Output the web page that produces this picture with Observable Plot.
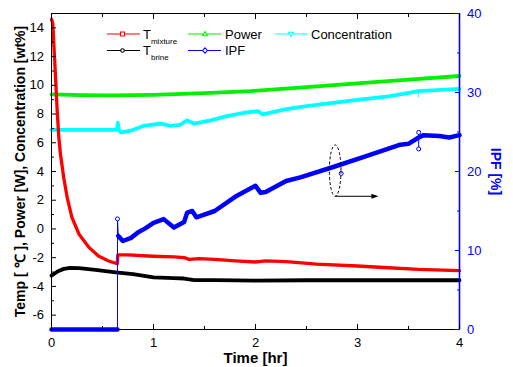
<!DOCTYPE html>
<html><head><meta charset="utf-8">
<script src="https://cdn.jsdelivr.net/npm/d3@7"></script>
<script src="https://cdn.jsdelivr.net/npm/@observablehq/plot@0.6"></script>
<style>
body{margin:0;background:#fff;}
#wrap{position:relative;width:513px;height:367px;}
#legend{position:absolute;left:0;top:0;pointer-events:none;}
</style></head><body><div id="wrap"></div>
<script>
// ---- data (time in hr) ----
const mixT = [0,0.013,0.023,0.04,0.056,0.072,0.088,0.12,0.154,0.2,0.27,0.37,0.46,0.56,0.645,0.65,0.75,1.0,1.2,1.3,1.35,1.45,1.6,1.8,2.0,2.1,2.3,2.6,3.0,3.3,3.6,4.0];
const mixV = [14.6,14.3,12.85,10.5,8.2,6.35,5.2,3.57,2.18,0.8,-0.37,-1.3,-1.88,-2.23,-2.42,-1.8,-1.8,-1.9,-1.95,-2.0,-2.12,-2.07,-2.12,-2.22,-2.3,-2.22,-2.28,-2.45,-2.58,-2.7,-2.82,-2.9];
const brineT = [0,0.03,0.07,0.12,0.17,0.27,0.43,0.63,0.8,1.0,1.2,1.3,1.4,1.6,2.0,2.5,3.0,3.5,4.0];
const brineV = [-3.25,-3.1,-2.92,-2.78,-2.72,-2.73,-2.85,-3.02,-3.15,-3.37,-3.42,-3.45,-3.56,-3.56,-3.6,-3.57,-3.57,-3.57,-3.57];
const powT = [0,0.3,0.6,1.0,1.5,1.95,2.5,3.0,3.5,4.0];
const powV = [9.37,9.32,9.3,9.34,9.45,9.6,9.88,10.13,10.39,10.65];
const concT = [0,0.64,0.65,0.66,0.68,0.77,0.9,1.07,1.17,1.26,1.33,1.4,1.56,1.72,1.89,2.02,2.07,2.15,2.29,2.5,3.0,3.32,3.6,4.0];
const concV = [6.9,6.9,7.4,6.9,6.72,6.82,7.17,7.33,7.17,7.24,7.56,7.33,7.56,7.86,8.09,8.2,7.98,8.1,8.33,8.55,8.98,9.25,9.6,9.75];
const ipfT = [0,0.647,0.647,0.655,0.7,0.78,0.85,0.92,1.0,1.1,1.2,1.3,1.33,1.38,1.42,1.6,1.8,2.0,2.05,2.1,2.3,2.44,2.77,3.1,3.42,3.5,3.6,3.65,3.8,3.9,4.0];
const ipfV = [0,0,14.0,11.85,11.2,11.6,12.3,12.8,13.5,13.97,12.9,13.6,14.8,15.0,14.2,15.0,16.8,18.2,17.3,17.4,18.8,19.25,20.6,22.0,23.4,23.5,24.3,24.6,24.5,24.3,24.6];
// error-bar style spikes
const ipfBarT = [3.6], ipfBarLo = [22.85], ipfBarHi = [24.95];
const concBarT = [3.6], concBarLo = [9.12], concBarHi = [9.7];
const ipfOddT = [2.84], ipfOddV = [19.75];
// annotation (ellipse around IPF curve + arrow to the right axis)
const annT = 2.786, annIpfTop = 23.3, annIpfBottom = 16.8, annHalfW = 0.057, annArrowEndT = 3.21;
// axes
const xMax = 4, yMin = -7, yMax = 15, ipfMax = 40;
const xMajor = [0,1,2,3,4], xMinor = [0.5,1.5,2.5,3.5];
const yMajor = [-6,-4,-2,0,2,4,6,8,10,12,14], yMinor = [-5,-3,-1,1,3,5,7,9,11,13];
const ipfMajor = [0,10,20,30,40], ipfMinor = [5,15,25,35];
const xTitle = "Time [hr]";
const yTitle = "Temp [ ℃ ], Power [W], Concentration [wt%]";
const y2Title = "IPF [%]";

const toLeft = v => yMin + v * (yMax - yMin) / ipfMax;
const zip = (T, V) => T.map((t, i) => ({t, v: V[i]}));
const mix = zip(mixT, mixV), brine = zip(brineT, brineV), pow = zip(powT, powV), conc = zip(concT, concV);
const ipf = ipfT.map((t, i) => ({t, v: toLeft(ipfV[i]), raw: ipfV[i], seg: i < 2 ? "zero" : (i === 2 ? "spike" : "data")}));
const ipfThick = ipf.filter(d => d.seg !== "spike");
const ipfSpike = ipf.filter(d => d.seg === "spike");
const ipfBars = ipfBarT.map((t, i) => ({t, lo: toLeft(ipfBarLo[i]), hi: toLeft(ipfBarHi[i])}));
const concBars = concBarT.map((t, i) => ({t, lo: concBarLo[i], hi: concBarHi[i]}));
const ipfOdd = ipfOddT.map((t, i) => ({t, v: toLeft(ipfOddV[i])}));

const BLUE = "#0000ff", RED = "#ff0000", GREEN = "#00f000", CYAN = "#00ffff";
const font = '"Liberation Sans", Arial, sans-serif';

const plot = Plot.plot({
  width: 513, height: 367,
  marginLeft: 51, marginRight: 54, marginTop: 13, marginBottom: 38,
  style: {fontFamily: font, fontSize: "13px", background: "white", color: "black", overflow: "visible"},
  x: {domain: [0, xMax], axis: null},
  y: {domain: [yMin, yMax], axis: null},
  marks: [
    Plot.line(brine, {x: "t", y: "v", stroke: "black", strokeWidth: 3.8}),
    Plot.line(pow, {x: "t", y: "v", stroke: GREEN, strokeWidth: 3.8}),
    Plot.line(conc, {x: "t", y: "v", stroke: CYAN, strokeWidth: 3.8}),
    Plot.ruleX(concBars, {x: "t", y1: "lo", y2: "hi", stroke: CYAN, strokeWidth: 1}),
    Plot.line(mix, {x: "t", y: "v", stroke: RED, strokeWidth: 3.3}),
    Plot.line(ipf, {x: "t", y: "v", stroke: BLUE, strokeWidth: 1}),
    Plot.line(ipfThick, {x: "t", y: "v", z: "seg", stroke: BLUE, strokeWidth: 4.5}),
    Plot.dot(ipfSpike, {x: "t", y: "v", r: 2, stroke: BLUE, fill: "white", strokeWidth: 1}),
    Plot.ruleX(ipfBars, {x: "t", y1: "lo", y2: "hi", stroke: BLUE, strokeWidth: 1}),
    Plot.dot(ipfBars, {x: "t", y: "lo", r: 2, stroke: BLUE, fill: "white", strokeWidth: 1}),
    Plot.dot(ipfBars, {x: "t", y: "hi", r: 2, stroke: BLUE, fill: "white", strokeWidth: 1}),
    Plot.dot(ipfOdd, {x: "t", y: "v", r: 2, stroke: BLUE, fill: "white", strokeWidth: 1}),
    Plot.frame({stroke: "black"}),
    Plot.ruleX([xMax], {stroke: BLUE, strokeWidth: 1.6}),
    // inward ticks
    Plot.axisX({ticks: xMajor, anchor: "bottom", tickSize: -5, fill: null, label: null}),
    Plot.axisX({ticks: xMinor, anchor: "bottom", tickSize: -3, fill: null, label: null}),
    Plot.axisX({ticks: xMajor, anchor: "top", tickSize: -5, fill: null, label: null}),
    Plot.axisX({ticks: xMinor, anchor: "top", tickSize: -3, fill: null, label: null}),
    Plot.axisY({ticks: yMajor, anchor: "left", tickSize: -5, fill: null, label: null}),
    Plot.axisY({ticks: yMinor, anchor: "left", tickSize: -3, fill: null, label: null}),
    Plot.axisY({ticks: ipfMajor.map(toLeft), anchor: "right", tickSize: -5, stroke: BLUE, fill: null, label: null}),
    Plot.axisY({ticks: ipfMinor.map(toLeft), anchor: "right", tickSize: -3, stroke: BLUE, fill: null, label: null}),
    // labels
    Plot.axisX({ticks: xMajor, anchor: "bottom", tickSize: 0, tickPadding: 8.5, label: null, tickFormat: d => String(d)}),
    Plot.axisY({ticks: yMajor, anchor: "left", tickSize: 0, tickPadding: 7.5, label: null, tickFormat: d => String(d)}),
    Plot.axisY({ticks: ipfMajor.map(toLeft), anchor: "right", tickSize: 0, tickPadding: 7.5, label: null, fill: BLUE,
      tickFormat: d => String(Math.round((d - yMin) * ipfMax / (yMax - yMin)))}),
    // titles
    Plot.text([xTitle], {text: d => d, frameAnchor: "bottom", dy: 29, lineAnchor: "middle", textAnchor: "middle", fontWeight: "bold", fontSize: 15}),
    Plot.text([yTitle], {text: d => d, frameAnchor: "left", dx: -31, rotate: -90, textAnchor: "middle", lineAnchor: "middle", fontWeight: "bold", fontSize: 14}),
    Plot.text([y2Title], {text: d => d, frameAnchor: "right", dx: 36, rotate: 90, textAnchor: "middle", lineAnchor: "middle", fontWeight: "bold", fontSize: 14, fill: BLUE})
  ]
});

// annotation through the plot's scales
const sx = plot.scale("x"), sy = plot.scale("y");
const g = d3.select(plot).append("g");
const cx = sx.apply(annT), cyTop = sy.apply(toLeft(annIpfTop)), cyBot = sy.apply(toLeft(annIpfBottom));
g.append("ellipse").attr("cx", cx).attr("cy", (cyTop + cyBot) / 2)
  .attr("rx", sx.apply(annT + annHalfW) - cx).attr("ry", (cyBot - cyTop) / 2)
  .attr("fill", "none").attr("stroke", "black").attr("stroke-width", 1).attr("stroke-dasharray", "3,2");
const ax2 = sx.apply(annArrowEndT);
g.append("line").attr("x1", cx).attr("y1", cyBot).attr("x2", ax2 - 6).attr("y2", cyBot).attr("stroke", "black").attr("stroke-width", 1);
g.append("path").attr("d", `M${ax2},${cyBot}L${ax2 - 7},${cyBot - 2.5}L${ax2 - 7},${cyBot + 2.5}Z`).attr("fill", "black");

document.getElementById("wrap").appendChild(plot);

// legend overlay
const legendItems = [
  {label: "T", sub: "mixture", color: RED, symbol: "square", col: 0, row: 0},
  {label: "T", sub: "brine", color: "black", symbol: "circle", col: 0, row: 1},
  {label: "Power", sub: null, color: GREEN, symbol: "triangle", col: 1, row: 0},
  {label: "IPF", sub: null, color: BLUE, symbol: "diamond", col: 1, row: 1},
  {label: "Concentration", sub: null, color: CYAN, symbol: "triangle-down", col: 2, row: 0}
];
const colX = [[107,140,122.5,143], [188,221,205,225], [275,308,291,311]];
const rowY = [34, 50.5];
const svg = d3.select("#wrap").append("svg").attr("id", "legend").attr("width", 513).attr("height", 367)
  .style("font-family", font);
for (const it of legendItems) {
  const [x1, x2, mx, tx] = colX[it.col]; const y = rowY[it.row];
  svg.append("line").attr("x1", x1).attr("x2", x2).attr("y1", y).attr("y2", y).attr("stroke", it.color).attr("stroke-width", 1.2);
  let p;
  if (it.symbol === "square") p = `M${mx-2},${y-2}h4v4h-4Z`;
  else if (it.symbol === "circle") p = `M${mx+1.8},${y}A1.8,1.8 0 1 1 ${mx-1.8},${y}A1.8,1.8 0 1 1 ${mx+1.8},${y}Z`;
  else if (it.symbol === "triangle") p = `M${mx},${y-2.4}L${mx+2.4},${y+1.8}L${mx-2.4},${y+1.8}Z`;
  else if (it.symbol === "triangle-down") p = `M${mx},${y+2.4}L${mx+2.4},${y-1.8}L${mx-2.4},${y-1.8}Z`;
  else p = `M${mx},${y-2.6}L${mx+2.4},${y}L${mx},${y+2.6}L${mx-2.4},${y}Z`;
  svg.append("path").attr("d", p).attr("fill", "white").attr("stroke", it.color).attr("stroke-width", 1.1);
  const t = svg.append("text").attr("x", tx).attr("y", y + 4.6).attr("font-size", 13).attr("fill", "black").text(it.label);
  if (it.sub) t.append("tspan").attr("font-size", 8).attr("dy", 5).text(it.sub);
}
</script></body></html>
